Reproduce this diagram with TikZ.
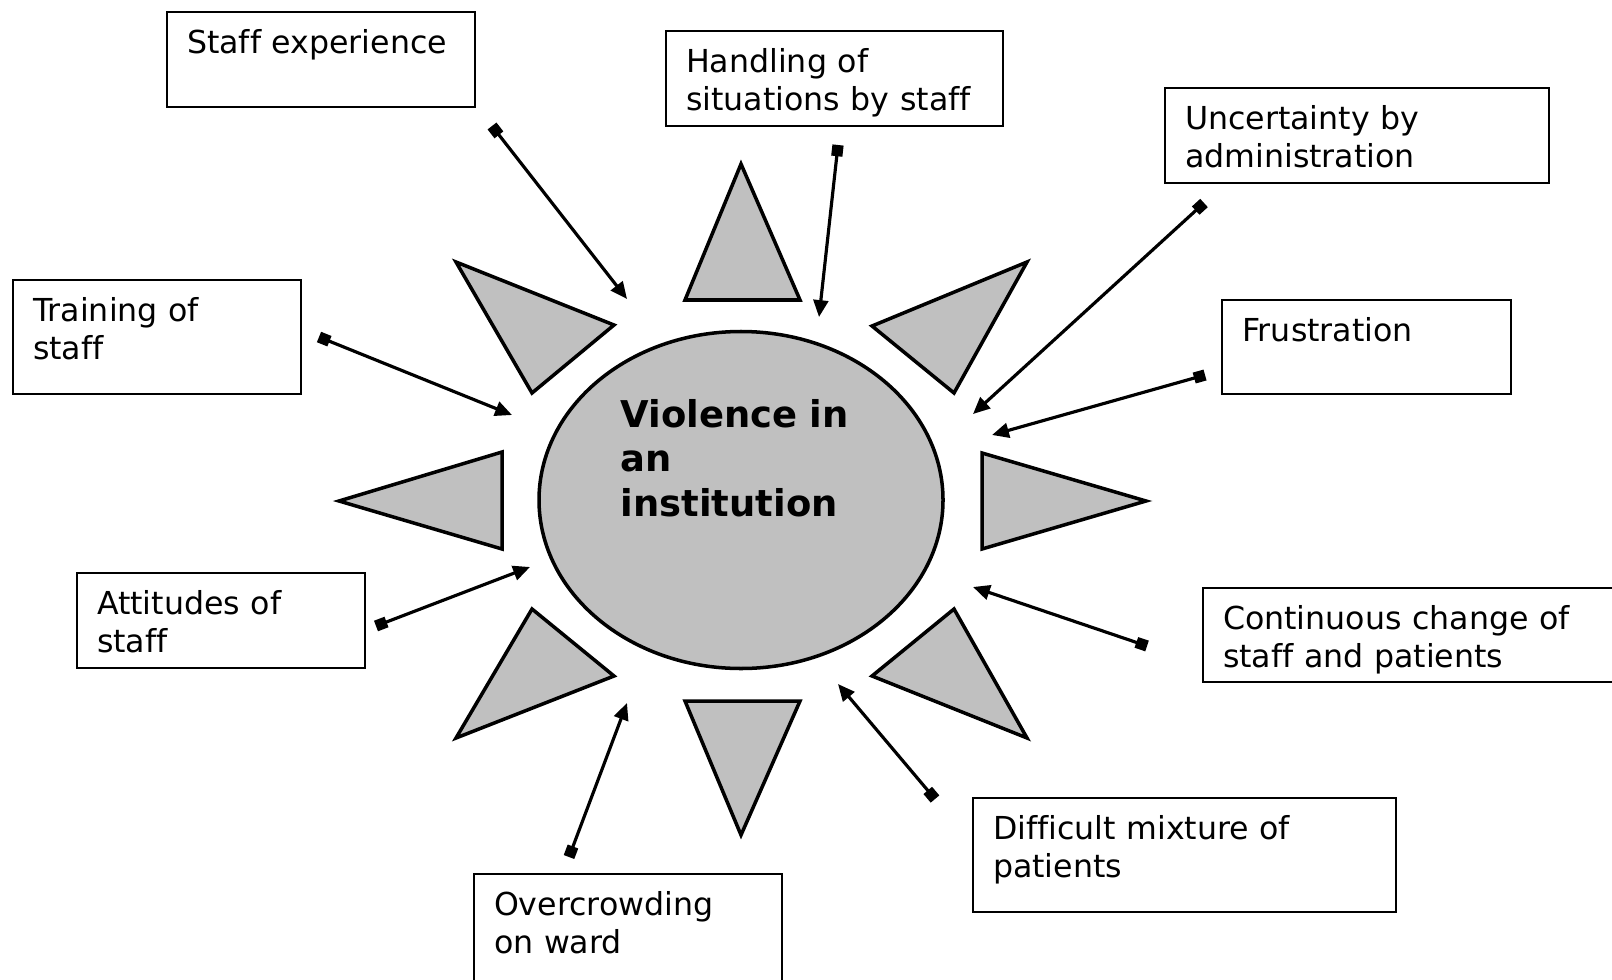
\documentclass[tikz,border=0pt]{standalone}
\usepackage{fontspec}
\setmainfont{DejaVu Sans}[Ligatures=NoCommon]
\usetikzlibrary{arrows.meta, shapes.geometric, positioning}

\definecolor{raygray}{HTML}{C0C0C0}

\tikzset{
  factor/.style={draw, line width=0.6pt, anchor=north west, inner xsep=0.2cm, inner ysep=0pt,
    align=left, text height=0.41cm, font=\fontsize{9}{10.8}\selectfont},
  ray/.style={draw, line width=1pt, fill=raygray, line join=miter},
  link/.style={line width=0.9pt, {Square[length=3.2pt,width=3.2pt]}-{Triangle[length=4.8pt,width=4.2pt]}}
}

\begin{document}
\begin{tikzpicture}
    \useasboundingbox (0,0) rectangle (16.12,-9.79);

    % the sun in the middle
    \node[ellipse, draw, line width=1pt, fill=raygray, minimum width=4.04cm, minimum height=3.37cm] (violence) at (7.41,-5.00) {};
    \node[anchor=base west, inner sep=0pt, text width=3cm, align=left, font=\fontsize{10.5}{12.7}\selectfont\bfseries] (violencetext) at (6.20,-4.27) {Violence in\\an\\institution};

    % rays
    \draw[ray] (7.41,-1.64) -- (6.85,-3.00) -- (8.00,-3.00) -- cycle;
    \draw[ray] (7.41,-8.35) -- (6.85,-7.01) -- (8.00,-7.01) -- cycle;
    \draw[ray] (3.39,-5.01) -- (5.02,-4.52) -- (5.02,-5.49) -- cycle;
    \draw[ray] (11.46,-5.01) -- (9.82,-4.53) -- (9.82,-5.49) -- cycle;
    \draw[ray] (4.56,-2.62) -- (6.14,-3.25) -- (5.32,-3.93) -- cycle;
    \draw[ray] (10.27,-2.62) -- (8.72,-3.26) -- (9.54,-3.93) -- cycle;
    \draw[ray] (5.32,-6.09) -- (6.14,-6.76) -- (4.56,-7.38) -- cycle;
    \draw[ray] (9.54,-6.09) -- (8.72,-6.76) -- (10.27,-7.38) -- cycle;

    % influencing factors
    \node[factor, text width=2.68cm, text depth=0.54cm] (experience) at (1.66,-0.11) {Staff experience};
    \node[factor, text width=2.97cm, text depth=0.54cm] (handling) at (6.65,-0.30) {Handling of\\situations by staff};
    \node[factor, text width=3.44cm, text depth=0.54cm] (uncertainty) at (11.64,-0.87) {Uncertainty by\\administration};
    \node[factor, text width=2.49cm, text depth=0.53cm] (frustration) at (12.21,-2.99) {Frustration};
    \node[factor, text width=2.48cm, text depth=0.73cm] (training) at (0.12,-2.79) {Training of\\staff};
    \node[factor, text width=2.48cm, text depth=0.54cm] (attitudes) at (0.76,-5.72) {Attitudes of\\staff};
    \node[factor, text width=3.9cm, text depth=0.53cm] (change) at (12.02,-5.87) {Continuous change of\\staff and patients};
    \node[factor, text width=3.83cm, text depth=0.73cm] (mixture) at (9.72,-7.97) {Difficult mixture of\\patients};
    \node[factor, text width=2.68cm, text depth=0.9cm] (crowding) at (4.73,-8.73) {Overcrowding\\on ward};

    % arrow ends
    \coordinate (experience-tail) at (4.92,-1.26);
    \coordinate (experience-head) at (6.27,-2.99);
    \coordinate (handling-tail) at (8.38,-1.45);
    \coordinate (handling-head) at (8.19,-3.17);
    \coordinate (uncertainty-tail) at (12.04,-2.03);
    \coordinate (uncertainty-head) at (9.73,-4.14);
    \coordinate (frustration-tail) at (12.05,-3.75);
    \coordinate (frustration-head) at (9.92,-4.35);
    \coordinate (training-tail) at (3.19,-3.37);
    \coordinate (training-head) at (5.12,-4.15);
    \coordinate (attitudes-tail) at (3.76,-6.26);
    \coordinate (attitudes-head) at (5.30,-5.67);
    \coordinate (change-tail) at (11.47,-6.46);
    \coordinate (change-head) at (9.73,-5.87);
    \coordinate (mixture-tail) at (9.35,-7.99);
    \coordinate (mixture-head) at (8.38,-6.84);
    \coordinate (crowding-tail) at (5.69,-8.57);
    \coordinate (crowding-head) at (6.27,-7.03);

    \draw[link] (experience-tail) -- (experience-head);
    \draw[link] (handling-tail) -- (handling-head);
    \draw[link] (uncertainty-tail) -- (uncertainty-head);
    \draw[link] (frustration-tail) -- (frustration-head);
    \draw[link] (training-tail) -- (training-head);
    \draw[link] (attitudes-tail) -- (attitudes-head);
    \draw[link] (change-tail) -- (change-head);
    \draw[link] (mixture-tail) -- (mixture-head);
    \draw[link] (crowding-tail) -- (crowding-head);

\end{tikzpicture}
\end{document}
